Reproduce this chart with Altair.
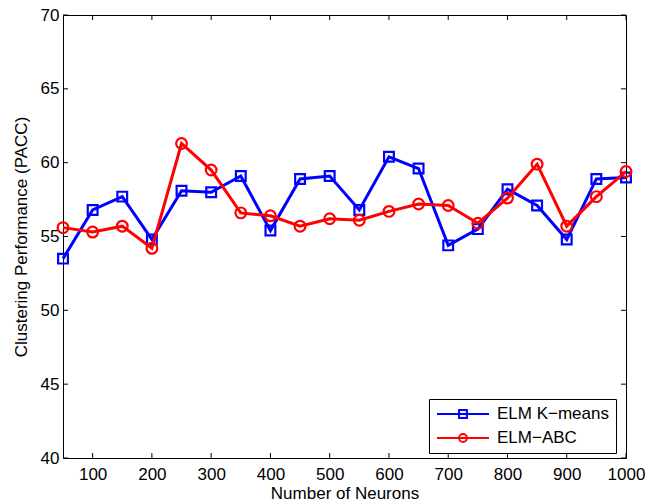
import altair as alt
import pandas as pd

neurons = [50, 100, 150, 200, 250, 300, 350, 400, 450, 500,
           550, 600, 650, 700, 750, 800, 850, 900, 950, 1000]
kmeans = [53.5, 56.8, 57.7, 54.8, 58.1, 58.0, 59.1, 55.4, 58.9, 59.1,
          56.8, 60.4, 59.6, 54.4, 55.5, 58.2, 57.1, 54.8, 58.9, 59.0]
abc = [55.6, 55.3, 55.7, 54.2, 61.3, 59.5, 56.6, 56.4, 55.7, 56.2,
       56.1, 56.7, 57.2, 57.1, 55.9, 57.6, 59.9, 55.7, 57.7, 59.4]
series_names = ["ELM K\u2212means", "ELM\u2212ABC"]
series_colors = ["#0000FF", "#FF0000"]
x_ticks = [100, 200, 300, 400, 500, 600, 700, 800, 900, 1000]
y_ticks = [40, 45, 50, 55, 60, 65, 70]

W, H = 563, 443
FONT = "Liberation Sans"
FS = 17

df_k = pd.DataFrame({"x": neurons, "y": kmeans, "series": series_names[0]})
df_a = pd.DataFrame({"x": neurons, "y": abc, "series": series_names[1]})
df_all = pd.concat([df_k, df_a], ignore_index=True)

xs = alt.Scale(domain=[50, 1000], nice=False, zero=False)
ys = alt.Scale(domain=[40, 70], nice=False, zero=False)
cs = alt.Scale(domain=series_names, range=series_colors)

x_axis = alt.Axis(values=x_ticks, title="Number of Neurons", grid=False, format="d",
                  domain=False, ticks=False, labelPadding=8,
                  titlePadding=3, labelFlush=False)
y_axis = alt.Axis(values=y_ticks, title="Clustering Performance (PACC)", format="d",
                  grid=False, domain=False, ticks=False, labelPadding=4,
                  titlePadding=10, labelFlush=False)
x_enc = alt.X("x:Q", scale=xs, axis=x_axis)
y_enc = alt.Y("y:Q", scale=ys, axis=y_axis)


def series_layers(df, color, shape, size):
    line = alt.Chart(df).mark_line(strokeWidth=3, color=color).encode(x=x_enc, y=y_enc)
    pts = alt.Chart(df).mark_point(shape=shape, size=size, filled=False, color=color,
                                   strokeWidth=2.2, opacity=1).encode(x=x_enc, y=y_enc)
    return [line, pts]


sq_path = "M-1,0H1M-0.15,-0.15H0.15V0.15H-0.15Z"
ci_path = "M-1,0H1M0.15,0A0.15,0.15,0,1,1,-0.15,0A0.15,0.15,0,1,1,0.15,0Z"

leg = alt.Legend(title=None, orient="none", legendX=366, legendY=384,
                 strokeColor="black", fillColor="white", padding=7,
                 rowPadding=7, labelOffset=7, labelFont=FONT, labelFontSize=FS,
                 labelColor="black", symbolStrokeWidth=2, clipHeight=16,
                 symbolSize=2704, labelLimit=300)
legend_layer = alt.Chart(df_all).transform_filter("false").mark_point(
    filled=False, size=2704, strokeWidth=2, opacity=1).encode(
    x=x_enc, y=y_enc,
    color=alt.Color("series:N", scale=cs, legend=leg),
    shape=alt.Shape("series:N", scale=alt.Scale(domain=series_names,
                                               range=[sq_path, ci_path]),
                    legend=leg),
)

xt_df = pd.DataFrame({"x": x_ticks})
yt_df = pd.DataFrame({"y": y_ticks})
tick_layers = [
    alt.Chart(xt_df).mark_rule(color="black", strokeWidth=1).encode(
        x=x_enc, y=alt.value(H), y2=alt.value(H - 5)),
    alt.Chart(xt_df).mark_rule(color="black", strokeWidth=1).encode(
        x=x_enc, y=alt.value(0), y2=alt.value(5)),
    alt.Chart(yt_df).mark_rule(color="black", strokeWidth=1).encode(
        y=y_enc, x=alt.value(0), x2=alt.value(5)),
    alt.Chart(yt_df).mark_rule(color="black", strokeWidth=1).encode(
        y=y_enc, x=alt.value(W), x2=alt.value(W - 5)),
]

layers = tick_layers + series_layers(df_k, series_colors[0], "square", 95) + \
    series_layers(df_a, series_colors[1], "circle", 115) + [legend_layer]

chart = alt.layer(*layers).properties(
    width=W, height=H,
    autosize=alt.AutoSizeParams(type="none"),
    padding={"left": 63, "top": 15, "right": 22, "bottom": 45},
    background="white",
).configure_view(stroke="black", strokeWidth=1).configure_axis(
    labelFont=FONT, labelFontSize=FS, labelColor="black",
    titleFont=FONT, titleFontSize=FS, titleColor="black", titleFontWeight="normal",
)

chart.save("out.html", embed_options={"renderer": "svg", "actions": False})
